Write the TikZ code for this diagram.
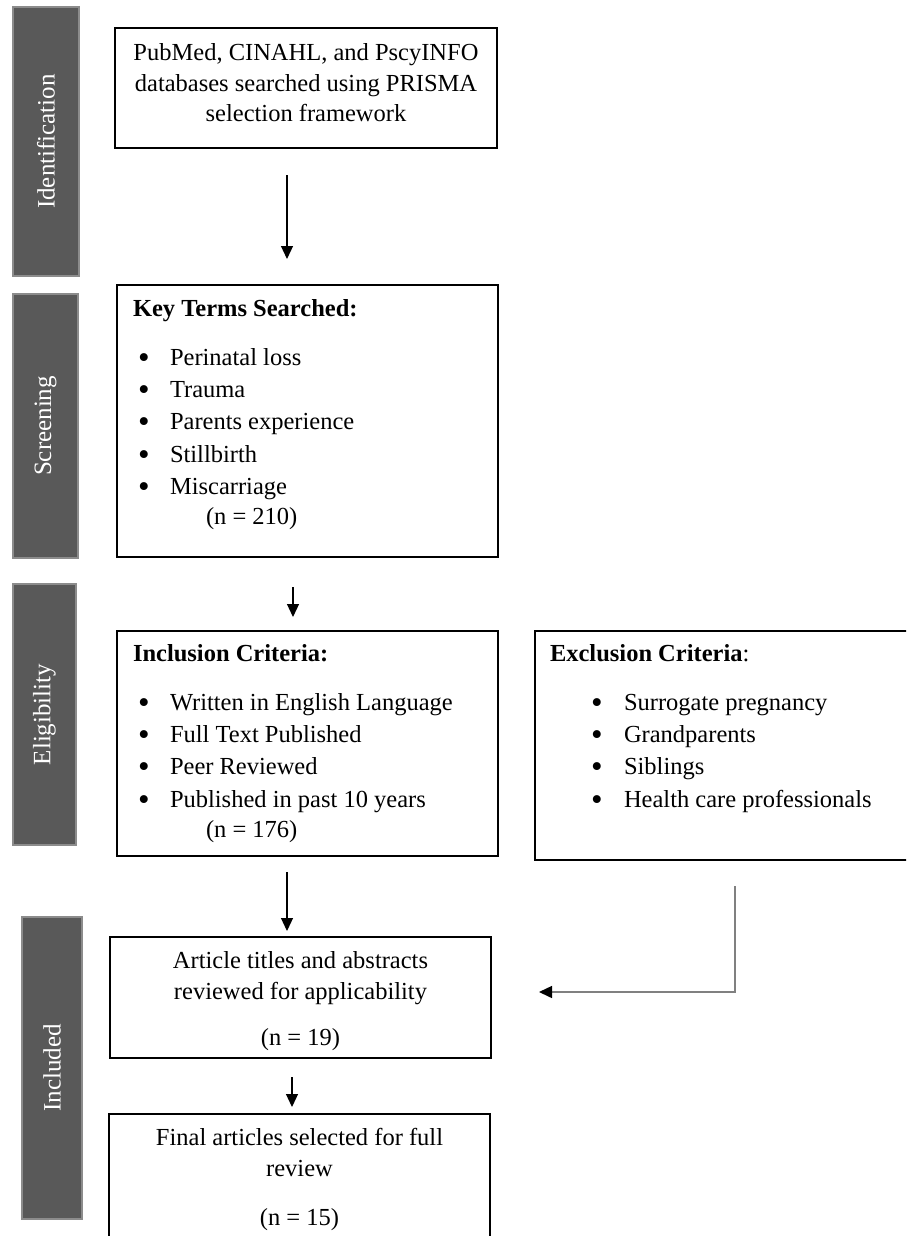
\documentclass[tikz,border=0pt]{standalone}
\usepackage{fontspec}
\setmainfont{Liberation Serif}
\usetikzlibrary{arrows.meta}
\definecolor{barfill}{HTML}{595959}
\definecolor{barline}{HTML}{8C8C8C}
\definecolor{exline}{HTML}{808080}
\newcommand\topgap[1]{\rule{0pt}{#1}}
\newcommand\bigbul{\raisebox{-3pt}{\scalebox{1.35}{•}}}
\newcommand\bulA{\hspace*{21pt}\makebox[32pt][l]{\bigbul}}
\newcommand\bulB{\hspace*{56pt}\makebox[33pt][l]{\bigbul}}
\begin{document}
\begin{tikzpicture}[x=1pt,y=-1pt,
  box/.style={draw=black, line width=2pt, inner sep=0pt, outer sep=0pt, anchor=north west},
  bar/.style={fill=barfill, draw=barline, line width=1.5pt, inner sep=0pt, outer sep=0pt,
              text=white, font=\fontsize{25}{29}\selectfont},
  arr/.style={line width=1.2pt, -{Triangle[width=12pt,length=13pt]}},
]
\clip (0,0) rectangle (906,1236);
\fill[white] (0,0) rectangle (906,1236);

% phase bars
\node[bar, minimum width=66pt, minimum height=269pt] (Pid) at (46,141.5) {\rotatebox{90}{Identification}};
\node[bar, minimum width=65pt, minimum height=264pt] (Psc) at (45.5,426) {\rotatebox{90}{Screening}};
\node[bar, minimum width=63pt, minimum height=261pt] (Pel) at (44.5,714.5) {\rotatebox{90}{Eligibility}};
\node[bar, minimum width=60pt, minimum height=302pt] (Pin) at (52,1068) {\rotatebox{90}{Included}};

% boxes
\node[box] (B1) at (115,28) {\parbox[c][120pt][t]{382pt}{\centering\fontsize{24.5}{30.5}\selectfont
  \topgap{33pt}PubMed, CINAHL, and PscyINFO\\
  databases searched using PRISMA\\
  selection framework}};

\node[box] (B2) at (117,285) {\parbox[c][272pt][t]{381pt}{\raggedright\fontsize{24.5}{32.4}\selectfont
  \topgap{31pt}\hspace*{16pt}\textbf{Key Terms Searched:}\\[16.6pt]
  \bulA Perinatal loss\\
  \bulA Trauma\\
  \bulA Parents experience\\
  \bulA Stillbirth\\
  \bulA Miscarriage\\[-2.4pt]
  \hspace*{89pt}(n = 210)}};

\node[box] (B3) at (117,631) {\parbox[c][225pt][t]{381pt}{\raggedright\fontsize{24.5}{32.4}\selectfont
  \topgap{30pt}\hspace*{16pt}\textbf{Inclusion Criteria:}\\[16.6pt]
  \bulA Written in English Language\\
  \bulA Full Text Published\\
  \bulA Peer Reviewed\\
  \bulA Published in past 10 years\\[-2.4pt]
  \hspace*{89pt}(n = 176)}};

\node[box] (B4) at (535,631) {\parbox[c][229pt][t]{375pt}{\raggedright\fontsize{24.5}{32.4}\selectfont
  \topgap{30pt}\hspace*{15pt}\textbf{Exclusion Criteria}:\\[16.6pt]
  \bulB Surrogate pregnancy\\
  \bulB Grandparents\\
  \bulB Siblings\\
  \bulB Health care professionals}};

\node[box] (B5) at (110,937) {\parbox[c][121pt][t]{381pt}{\centering\fontsize{24.5}{31}\selectfont
  \topgap{31pt}Article titles and abstracts\\
  reviewed for applicability\\[15pt]
  (n = 19)}};

\node[box] (B6) at (109,1114) {\parbox[c][140pt][t]{381pt}{\centering\fontsize{24.5}{31}\selectfont
  \topgap{31pt}Final articles selected for full\\
  review\\[18pt]
  (n = 15)}};

% connectors
\coordinate (A1x) at (287,0);
\coordinate (A2x) at (293,0);
\coordinate (A3x) at (287,0);
\coordinate (A4x) at (292,0);
\coordinate (Ex) at (735,0);
\coordinate (Ey) at (0,992);

\draw[arr, shorten <=27pt, shorten >=26pt] (B1.south -| A1x) -- (B2.north -| A1x);
\draw[arr, shorten <=30pt, shorten >=14pt] (B2.south -| A2x) -- (B3.north -| A2x);
\draw[arr, shorten <=16pt, shorten >=6pt] (B3.south -| A3x) -- (B5.north -| A3x);
\draw[arr, draw=exline, -{Triangle[width=12pt,length=13pt,color=black]}, line width=1.5pt,
      shorten <=26pt, shorten >=48pt] (B4.south -| Ex) |- (B5.east |- Ey);
\draw[arr, shorten <=19pt, shorten >=7pt] (B5.south -| A4x) -- (B6.north -| A4x);
\end{tikzpicture}
\end{document}
